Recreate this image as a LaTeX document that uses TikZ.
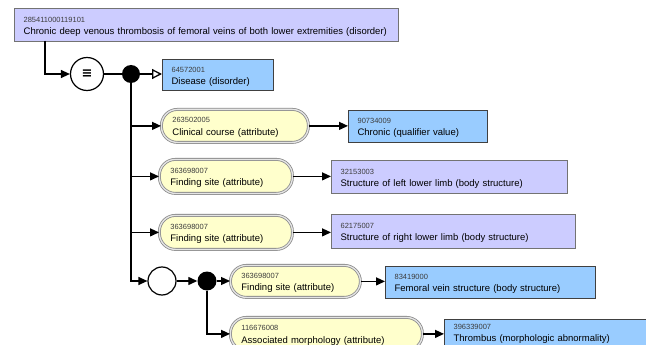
\documentclass[tikz,border=0pt]{standalone}
\usepackage{fontspec}
\setmainfont{Liberation Sans}
\newfontfamily\symfont{DejaVu Sans}
\usetikzlibrary{arrows.meta}
\definecolor{lav}{RGB}{204,204,255}
\definecolor{blu}{RGB}{153,204,255}
\definecolor{yel}{RGB}{255,255,204}
\definecolor{numgray}{RGB}{60,60,60}
\definecolor{bordergray}{RGB}{115,115,115}
\newcommand{\cid}[2]{\rule{0pt}{8.1pt}{\fontsize{7.5}{9}\selectfont\color{numgray}#1}\\#2}
\tikzset{
 base/.style={anchor=north west, align=left, inner ysep=0pt, font=\fontsize{9.5}{12.3}\selectfont},
 primbox/.style={base, draw=bordergray, fill=lav, line width=1.3pt, inner xsep=9pt},
 defbox/.style={base, draw=black!75, fill=blu, line width=1.2pt, inner xsep=9pt},
 attrbox/.style={base, draw=gray!90, double=gray!20, double distance=1.3pt, line width=0.8pt, fill=yel, inner xsep=11pt, rounded corners=16pt},
 conn/.style={line width=1.3pt, -{Triangle[length=9pt,width=8pt]}},
 plain/.style={line width=1.3pt},
 isa/.style={line width=1.3pt, -{Triangle[open,length=10pt,width=10pt,fill=white]}},
 dotnode/.style={circle, fill=black, inner sep=0pt, minimum size=18pt},
 opnode/.style={circle, draw=black, line width=1.2pt, fill=white, inner sep=0pt},
}
\begin{document}
\begin{tikzpicture}[x=1pt,y=-1pt]
\useasboundingbox (0,0) rectangle (646,345);
\clip (0,0) rectangle (646,345);
\fill[white] (0,0) rectangle (646,345);
% nodes
\node[primbox, text width=366pt, minimum height=33pt] (top) at (14,8) {\cid{285411000119101}{Chronic deep venous thrombosis of femoral veins of both lower extremities (disorder)}};
\node[defbox, text width=93pt, minimum height=31pt] (dis) at (162,59) {\cid{64572001}{Disease (disorder)}};
\node[opnode, minimum size=33pt] (eq) at (87,74) {\symfont\bfseries\fontsize{13}{13}\selectfont ≡};
\node[dotnode] (d1) at (131,74) {};
\node[attrbox, text width=125pt, minimum height=33pt] (clin) at (161,109) {\cid{263502005}{Clinical course (attribute)}};
\node[defbox, text width=121pt, minimum height=32pt] (chr) at (348,110) {\cid{90734009}{Chronic (qualifier value)}};
\node[attrbox, text width=111pt, minimum height=34pt] (fs1) at (159,159) {\cid{363698007}{Finding site (attribute)}};
\node[primbox, text width=218pt, minimum height=33pt] (llimb) at (331,160) {\cid{32153003}{Structure of left lower limb (body structure)}};
\node[attrbox, text width=111pt, minimum height=34pt] (fs2) at (159,215) {\cid{363698007}{Finding site (attribute)}};
\node[primbox, text width=226pt, minimum height=34pt] (rlimb) at (331,214) {\cid{62175007}{Structure of right lower limb (body structure)}};
\node[opnode, minimum size=28pt] (oc) at (162,281) {};
\node[dotnode, minimum size=19pt] (d2) at (207,281) {};
\node[attrbox, text width=108pt, minimum height=32pt] (fs3) at (230,265) {\cid{363698007}{Finding site (attribute)}};
\node[defbox, text width=192pt, minimum height=32pt] (fem) at (385,266) {\cid{83419000}{Femoral vein structure (body structure)}};
\node[attrbox, text width=170pt, minimum height=33pt] (am) at (230,317) {\cid{116676008}{Associated morphology (attribute)}};
\node[defbox, text width=192pt, minimum height=27.5pt] (thr) at (444,319) {\rule{0pt}{6pt}{\fontsize{7.5}{9}\selectfont\color{numgray}396339007}\\Thrombus (morphologic abnormality)};
% connectors
\coordinate (c0) at (45,41);
\draw[conn] (c0) |- (eq.west);
\draw[plain] (eq) -- (d1);
\draw[isa] (d1) -- (d1 -| dis.west);
\draw[conn] (d1) |- (clin.west);
\draw[conn] (d1) |- (fs1.west);
\draw[conn] (d1) |- (fs2.west);
\draw[conn] (d1) |- (oc.west);
\draw[conn] (oc) -- (d2);
\draw[conn] (d2) -- (d2 -| fs3.west);
\draw[conn] (d2) |- (am.west);
\draw[conn] (clin.east) -- (clin.east -| chr.west);
\draw[conn] (fs1.east) -- (fs1.east -| llimb.west);
\draw[conn] (fs2.east) -- (fs2.east -| rlimb.west);
\draw[conn] (fs3.east) -- (fs3.east -| fem.west);
\draw[conn] (am.east) -- (am.east -| thr.west);
\end{tikzpicture}
\end{document}
